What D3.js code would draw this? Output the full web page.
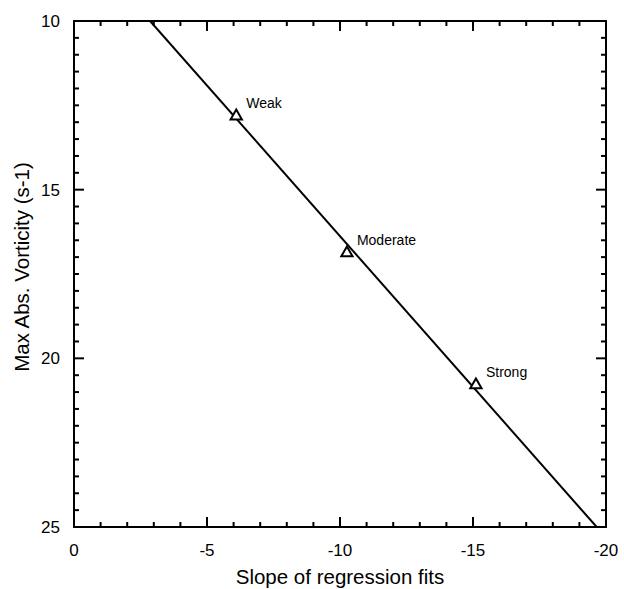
<!DOCTYPE html>
<html><head><meta charset="utf-8">
<script src="https://cdn.jsdelivr.net/npm/d3@7"></script>
<style>body{margin:0;background:#fff}svg{display:block}text{font-family:"Liberation Sans",Arial,sans-serif;fill:#000}</style>
</head><body>
<script>
const categories = ["Weak", "Moderate", "Strong"];
const slopeValues = [-6.1, -10.26, -15.11];
const vorticityValues = [12.82, 16.88, 20.79];
const fitLineX = [-2.86, -19.65];
const fitLineY = [10, 25];
const xTickLabels = [0, -5, -10, -15, -20];
const yTickLabels = [10, 15, 20, 25];

const W = 624, H = 589;
const m = {left: 74, right: 18, top: 21, bottom: 62};
const svg = d3.select("body").append("svg").attr("width", W).attr("height", H);
const x = d3.scaleLinear().domain([0, -20]).range([m.left, W - m.right]);
const y = d3.scaleLinear().domain([10, 25]).range([m.top, H - m.bottom]);
const x0 = m.left, x1 = W - m.right, y0 = m.top, y1 = H - m.bottom;

const g = svg.append("g");
const xMinor = d3.range(0, -21, -1);
const yMinor = d3.range(10, 25.01, 0.5);
xMinor.forEach(v => {
  const major = v % 5 === 0;
  const L = major ? 10 : 5;
  g.append("line").attr("x1", x(v)).attr("x2", x(v)).attr("y1", y1).attr("y2", y1 - L).attr("stroke", "#000").attr("stroke-width", 2);
  g.append("line").attr("x1", x(v)).attr("x2", x(v)).attr("y1", y0).attr("y2", y0 + L).attr("stroke", "#000").attr("stroke-width", 2);
});
yMinor.forEach(v => {
  const major = Math.abs(v % 5) < 1e-9;
  const L = major ? 10 : 5;
  g.append("line").attr("y1", y(v)).attr("y2", y(v)).attr("x1", x0).attr("x2", x0 + L).attr("stroke", "#000").attr("stroke-width", 2);
  g.append("line").attr("y1", y(v)).attr("y2", y(v)).attr("x1", x1).attr("x2", x1 - L).attr("stroke", "#000").attr("stroke-width", 2);
});
g.append("rect").attr("x", x0).attr("y", y0).attr("width", x1 - x0).attr("height", y1 - y0)
  .attr("fill", "none").attr("stroke", "#000").attr("stroke-width", 2);

svg.selectAll(".xl").data(xTickLabels).enter().append("text")
  .attr("x", d => x(d)).attr("y", y1 + 29).attr("text-anchor", "middle")
  .attr("font-size", 17).text(d => d);
svg.selectAll(".yl").data(yTickLabels).enter().append("text")
  .attr("x", x0 - 14).attr("y", d => y(d) + 6).attr("text-anchor", "end")
  .attr("font-size", 17).text(d => d);

svg.append("text").attr("x", (x0 + x1) / 2).attr("y", 584).attr("text-anchor", "middle")
  .attr("font-size", 20.5).text("Slope of regression fits");
svg.append("text").attr("transform", `translate(29,${(y0 + y1) / 2 - 7}) rotate(-90)`)
  .attr("text-anchor", "middle").attr("font-size", 20.5).text("Max Abs. Vorticity (s-1)");

svg.append("clipPath").attr("id", "c").append("rect").attr("x", x0).attr("y", y0).attr("width", x1 - x0).attr("height", y1 - y0);
svg.append("line").attr("clip-path", "url(#c)")
  .attr("x1", x(fitLineX[0])).attr("y1", y(fitLineY[0]))
  .attr("x2", x(fitLineX[1])).attr("y2", y(fitLineY[1]))
  .attr("stroke", "#000").attr("stroke-width", 2);

const pts = categories.map((c, i) => ({c, xv: slopeValues[i], yv: vorticityValues[i]}));
const tri = d3.symbol().type(d3.symbolTriangle).size(55);
svg.selectAll(".pt").data(pts).enter().append("path")
  .attr("d", tri).attr("transform", d => `translate(${x(d.xv)},${y(d.yv)})`)
  .attr("fill", "#fff").attr("stroke", "#000").attr("stroke-width", 2);
svg.selectAll(".lab").data(pts).enter().append("text")
  .attr("x", d => x(d.xv) + 10).attr("y", d => y(d.yv) - 8)
  .attr("font-size", 14).text(d => d.c);
</script>
</body></html>
